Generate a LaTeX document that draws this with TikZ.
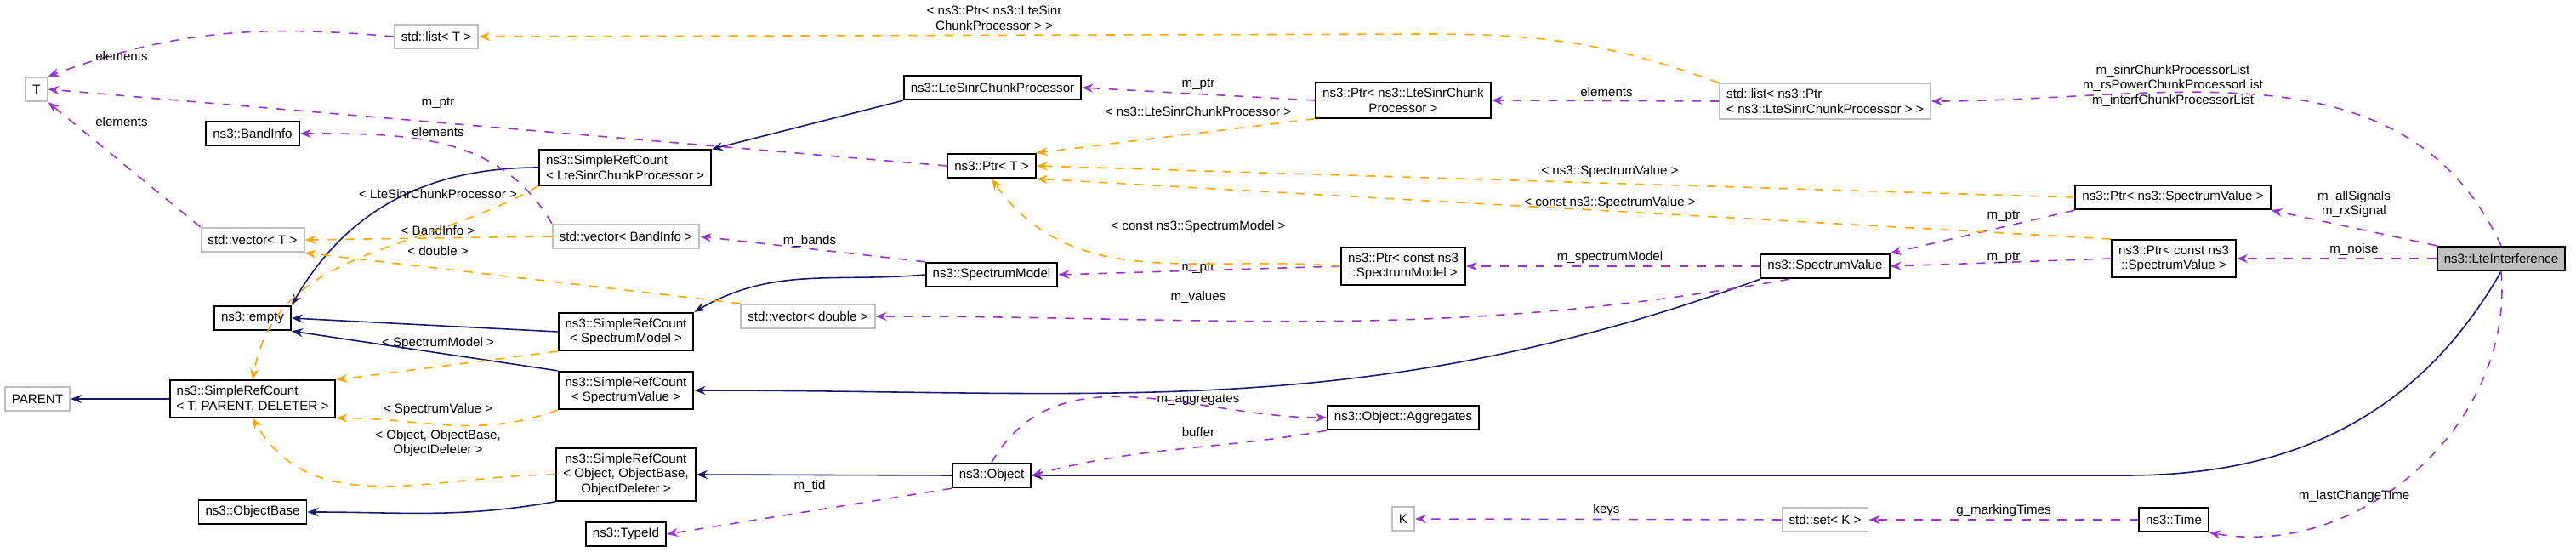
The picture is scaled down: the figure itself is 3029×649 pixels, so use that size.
\documentclass[tikz,border=0pt]{standalone}
\usepackage{fontspec}
\setmainfont{Liberation Sans}
\usetikzlibrary{arrows.meta}
\definecolor{edgeblue}{HTML}{191970}
\definecolor{edgeviolet}{HTML}{9A32CD}
\definecolor{edgeorange}{HTML}{FFA500}
\definecolor{boxgray}{HTML}{BFBFBF}
\tikzset{cls/.style = {draw, black, line width=0.55pt, fill=white, rectangle, minimum height=0.285cm, inner xsep=0.08cm, inner ysep=0.065cm, align=center, text=black},
         ext/.style = {cls, draw=boxgray},
         focus/.style = {cls, fill=boxgray},
         inherit/.style = {draw=edgeblue, line width=0.45pt, -{Stealth[length=0.13cm,width=0.1cm]}},
         usage/.style = {draw=edgeviolet, line width=0.45pt, dashed, -{Stealth[length=0.13cm,width=0.1cm]}},
         templ/.style = {draw=edgeorange, line width=0.45pt, dashed, -{Stealth[length=0.13cm,width=0.1cm]}},
         lbl/.style = {align=center, inner sep=0pt}}

\begin{document}
\begin{tikzpicture}[x=0.01cm, y=-0.01cm, font=\fontsize{4.3}{4.9}\selectfont]
    \useasboundingbox (0,0) rectangle (3029,649);

    % left column
    \node[ext] (T) at (43,105) {T};
    \node[ext] (PARENT) at (44,469) {PARENT};
    \node[ext] (listT) at (513,43) {std::list< T >};
    \node[cls] (bandinfo) at (297,157) {ns3::BandInfo};
    \node[ext] (vecT) at (297,282) {std::vector< T >};
    \node[cls] (empty) at (297,374) {ns3::empty};
    \node[cls, align=left] (srcT) at (297,469) {ns3::SimpleRefCount\\< T, PARENT, DELETER >};
    \node[cls] (objbase) at (297,602) {ns3::ObjectBase};

    % second column
    \node[cls, align=left] (srcLte) at (735,197) {ns3::SimpleRefCount\\< LteSinrChunkProcessor >};
    \node[ext] (vecBand) at (736,278) {std::vector< BandInfo >};
    \node[cls] (srcModel) at (736,390) {ns3::SimpleRefCount\\< SpectrumModel >};
    \node[ext] (vecDouble) at (950,372) {std::vector< double >};
    \node[cls] (srcValue) at (736,459) {ns3::SimpleRefCount\\< SpectrumValue >};
    \node[cls] (srcObject) at (736,558) {ns3::SimpleRefCount\\< Object, ObjectBase,\\ObjectDeleter >};
    \node[cls] (typeid) at (736,628) {ns3::TypeId};

    % third column
    \node[cls] (chunk) at (1167,103) {ns3::LteSinrChunkProcessor};
    \node[cls] (ptrT) at (1166,195) {ns3::Ptr< T >};
    \node[cls] (model) at (1166,323) {ns3::SpectrumModel};
    \node[cls] (object) at (1166,559) {ns3::Object};

    % fourth column
    \node[cls] (ptrChunk) at (1650,118) {ns3::Ptr< ns3::LteSinrChunk\\Processor >};
    \node[cls] (ptrModel) at (1650,313) {ns3::Ptr< const ns3\\::SpectrumModel >};
    \node[cls] (aggr) at (1650,491) {ns3::Object::Aggregates};
    \node[ext] (K) at (1650,610) {K};

    % fifth column
    \node[ext, align=left] (listPtr) at (2146,119) {std::list< ns3::Ptr\\< ns3::LteSinrChunkProcessor > >};
    \node[cls] (value) at (2146,313) {ns3::SpectrumValue};
    \node[ext] (setK) at (2146,611) {std::set< K >};

    % sixth column
    \node[cls] (ptrValue) at (2555,232) {ns3::Ptr< ns3::SpectrumValue >};
    \node[cls] (ptrCValue) at (2556,304) {ns3::Ptr< const ns3\\::SpectrumValue >};
    \node[cls] (time) at (2556,611) {ns3::Time};
    \node[focus] (lte) at (2941,304) {ns3::LteInterference};

    % inheritance
    \draw[inherit] (srcLte.west) to[out=180, in=60] (empty.north east);
    \draw[inherit] (chunk.south west) -- (srcLte.north east);
    \draw[inherit] (srcModel.west) -- (empty.east);
    \draw[inherit] (srcValue.north west) -- (empty.south east);
    \draw[inherit] (model.west) to[out=185, in=30] (srcModel.north east);
    \draw[inherit] (value.south west) to[out=-160, in=0] (srcValue.east);
    \draw[inherit] (srcT.west) -- (PARENT.east);
    \draw[inherit] (srcObject.south west) to[out=-170, in=0] (objbase.east);
    \draw[inherit] (object.west) -- (srcObject.east);
    \draw[inherit] (lte.south) to[out=-120, in=0] (2500,559) -- (object.east);

    % usage
    \draw[usage] (listT.west) to[out=175, in=20] (T.north east);
    \node[lbl] (lElemA) at (143,66) {elements};
    \draw[usage] (ptrT.west) -- (T.east);
    \node[lbl] (lPtrT) at (515,121) {m\_ptr};
    \draw[usage] (vecT.north west) -- (T.south east);
    \node[lbl] (lElemB) at (143,143) {elements};
    \draw[usage] (vecBand.north west) to[out=120, in=0] (bandinfo.east);
    \node[lbl] (lElemC) at (515,155) {elements};
    \draw[usage] (model.north west) -- (vecBand.east);
    \node[lbl] (lBands) at (952,284) {m\_bands};
    \draw[usage] (ptrChunk.west) -- (chunk.east);
    \node[lbl] (lPtrChunk) at (1409,99) {m\_ptr};
    \draw[usage] (listPtr.west) -- (ptrChunk.east);
    \node[lbl] (lElemD) at (1889,108) {elements};
    \draw[usage] (ptrModel.west) -- (model.east);
    \node[lbl] (lPtrModel) at (1409,315) {m\_ptr};
    \draw[usage] (value.west) -- (ptrModel.east);
    \node[lbl] (lSpecModel) at (1893,303) {m\_spectrumModel};
    \draw[usage] (value.200) to[out=190, in=0] (vecDouble.east);
    \node[lbl] (lValues) at (1409,350) {m\_values};
    \draw[usage] (object.north) to[out=60, in=180] (aggr.west);
    \node[lbl] (lAggr) at (1409,470) {m\_aggregates};
    \draw[usage] (aggr.south west) to[out=190, in=15] (object.east);
    \node[lbl] (lBuffer) at (1409,508) {buffer};
    \draw[usage] (object.south west) -- (typeid.east);
    \node[lbl] (lTid) at (952,572) {m\_tid};
    \draw[usage] (setK.west) -- (K.east);
    \node[lbl] (lKeys) at (1889,600) {keys};
    \draw[usage] (time.west) -- (setK.east);
    \node[lbl] (lMarking) at (2356,601) {g\_markingTimes};
    \draw[usage] (lte.north) to[out=115, in=0] (listPtr.east);
    \node[lbl] (lLists) at (2555,101) {m\_sinrChunkProcessorList\\m\_rsPowerChunkProcessorList\\m\_interfChunkProcessorList};
    \draw[usage] (ptrValue.south west) -- (value.north east);
    \node[lbl] (lPtrValue) at (2356,254) {m\_ptr};
    \draw[usage] (ptrCValue.west) -- (value.east);
    \node[lbl] (lPtrCValue) at (2356,303) {m\_ptr};
    \draw[usage] (lte.north west) -- (ptrValue.south east);
    \node[lbl] (lSignals) at (2768,240) {m\_allSignals\\m\_rxSignal};
    \draw[usage] (lte.west) -- (ptrCValue.east);
    \node[lbl] (lNoise) at (2768,294) {m\_noise};
    \draw[usage] (lte.south) to[out=-85, in=-10] (time.south east);
    \node[lbl] (lLast) at (2768,584) {m\_lastChangeTime};

    % template instances
    \draw[templ] (listPtr.north west) to[out=160, in=0] (1680,40) -- (listT.east);
    \node[lbl] (lListPtr) at (1169,21) {< ns3::Ptr< ns3::LteSinr\\ChunkProcessor > >};
    \draw[templ] (ptrChunk.south west) -- (ptrT.north east);
    \node[lbl] (lPtrChunkT) at (1409,131) {< ns3::LteSinrChunkProcessor >};
    \draw[templ] (ptrValue.west) -- (ptrT.east);
    \node[lbl] (lValueT) at (1893,202) {< ns3::SpectrumValue >};
    \draw[templ] (ptrCValue.north west) -- (ptrT.south east);
    \node[lbl] (lCValueT) at (1893,239) {< const ns3::SpectrumValue >};
    \draw[templ] (ptrModel.west) to[out=175, in=-55] (ptrT.south);
    \node[lbl] (lCModelT) at (1409,267) {< const ns3::SpectrumModel >};
    \draw[templ] (vecBand.west) -- (vecT.east);
    \node[lbl] (lBandT) at (515,271) {< BandInfo >};
    \draw[templ] (vecDouble.north west) -- (vecT.south east);
    \node[lbl] (lDoubleT) at (515,295) {< double >};
    \draw[templ] (srcLte.south west) to[out=-150, in=80] (srcT.north);
    \node[lbl] (lLteT) at (515,228) {< LteSinrChunkProcessor >};
    \draw[templ] (srcModel.south west) -- (srcT.north east);
    \node[lbl] (lModelT) at (515,404) {< SpectrumModel >};
    \draw[templ] (srcValue.south west) to[out=-160, in=0] (srcT.south east);
    \node[lbl] (lSValueT) at (515,482) {< SpectrumValue >};
    \draw[templ] (srcObject.west) to[out=180, in=-60] (srcT.south);
    \node[lbl] (lObjectT) at (515,521) {< Object, ObjectBase,\\ObjectDeleter >};
\end{tikzpicture}
\end{document}
